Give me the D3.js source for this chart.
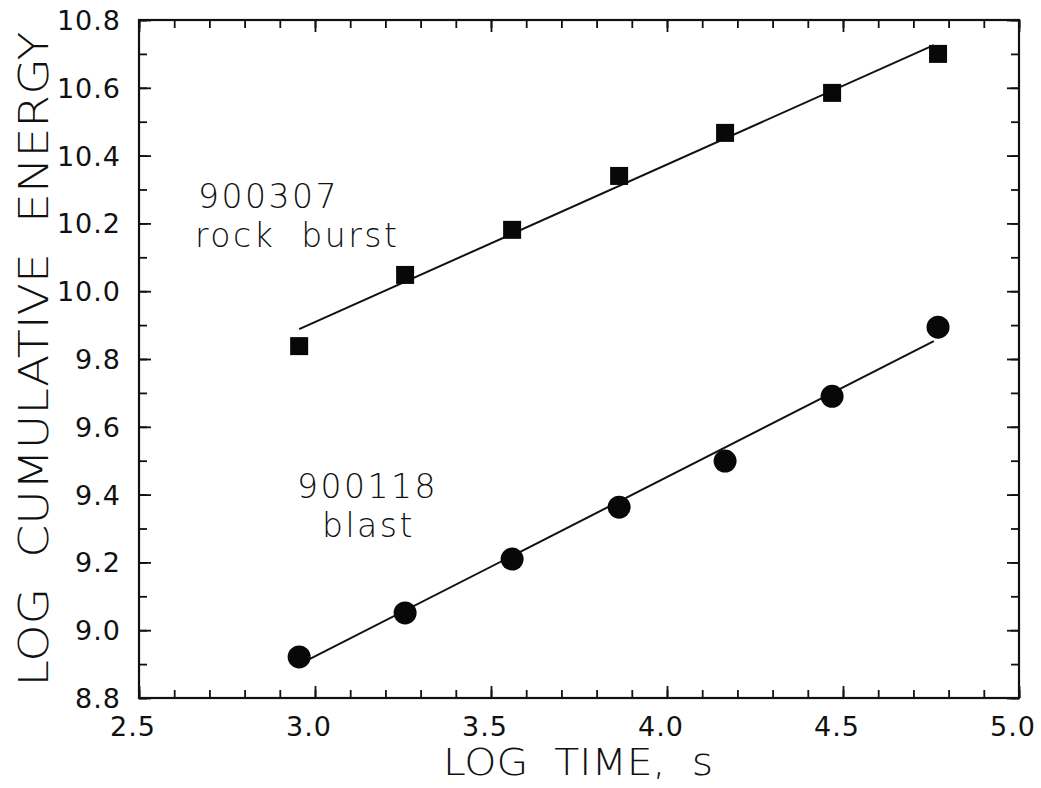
<!DOCTYPE html>
<html>
<head>
<meta charset="utf-8">
<style>
  body { margin: 0; background: #fff; }
  text { fill: #111; white-space: pre; }
</style>
</head>
<body>
<svg width="1041" height="788"></svg>
<script src="https://cdnjs.cloudflare.com/ajax/libs/d3/7.8.5/d3.min.js"></script>
<script>

    // log time vs log cumulative energy, two events with their fitted lines

    var logTime = [2.955, 3.256, 3.56, 3.864, 4.165, 4.469, 4.77];
    var rockBurst = [9.838, 10.048, 10.181, 10.340, 10.467, 10.585, 10.700];
    var blast = [8.921, 9.051, 9.210, 9.363, 9.499, 9.690, 9.894];

    // fitted lines, start and end
    var fitTime = [2.955, 4.758];
    var rockBurstFit = [9.888, 10.726];
    var blastFit = [8.899, 9.853];

    var xTicks = [2.5, 3.0, 3.5, 4.0, 4.5, 5.0];
    var yTicks = [8.8, 9.0, 9.2, 9.4, 9.6, 9.8, 10.0, 10.2, 10.4, 10.6, 10.8];

    var svg = d3.select("svg"),
        margin = {top: 20, right: 22, bottom: 90, left: 139},
        width = +svg.attr("width") - margin.left - margin.right,
        height = +svg.attr("height") - margin.top - margin.bottom,
        g = svg.append("g").attr("transform", "translate(" + margin.left + "," + margin.top + ")");

    var x = d3.scaleLinear().domain([2.5, 5.0]).range([0, width]);
    var y = d3.scaleLinear().domain([8.8, 10.8]).range([height, 0]);

    var xMinor = d3.range(25, 51).map(function (d) { return d / 10; });
    var yMinor = d3.range(88, 109).map(function (d) { return d / 10; });

    // ticks point inward on all four sides
    function tickAxis(axis, scale, values, size) {
        return axis(scale).tickValues(values).tickSizeInner(-size).tickSizeOuter(0).tickFormat("");
    }

    g.append("g").attr("transform", "translate(0," + height + ")").call(tickAxis(d3.axisBottom, x, xMinor, 8));
    g.append("g").attr("transform", "translate(0," + height + ")").call(tickAxis(d3.axisBottom, x, xTicks, 12));
    g.append("g").call(tickAxis(d3.axisTop, x, xMinor, 8));
    g.append("g").call(tickAxis(d3.axisTop, x, xTicks, 12));
    g.append("g").call(tickAxis(d3.axisLeft, y, yMinor, 8));
    g.append("g").call(tickAxis(d3.axisLeft, y, yTicks, 12));
    g.append("g").attr("transform", "translate(" + width + ",0)").call(tickAxis(d3.axisRight, y, yMinor, 8));
    g.append("g").attr("transform", "translate(" + width + ",0)").call(tickAxis(d3.axisRight, y, yTicks, 12));

    g.selectAll(".domain").remove();
    g.selectAll(".tick line").attr("stroke", "#111").attr("stroke-width", 1.8);

    g.append("rect")
        .attr("width", width)
        .attr("height", height)
        .attr("fill", "none")
        .attr("stroke", "#111")
        .attr("stroke-width", 2.2);

    // tick labels
    g.selectAll(".xlab")
        .data(xTicks)
        .enter().append("text")
        .attr("x", function (d) { return x(d) - 6; })
        .attr("y", height + 38)
        .attr("text-anchor", "middle")
        .style("font-family", "DejaVu Sans")
        .style("font-size", "27px")
        .style("letter-spacing", "1px")
        .text(function (d) { return d.toFixed(1); });

    g.selectAll(".ylab")
        .data(yTicks)
        .enter().append("text")
        .attr("x", -18)
        .attr("y", function (d) { return y(d) + 10; })
        .attr("text-anchor", "end")
        .style("font-family", "DejaVu Sans")
        .style("font-size", "27px")
        .style("letter-spacing", "1px")
        .text(function (d) { return d.toFixed(1); });

    // axis titles
    svg.append("text")
        .attr("x", 578)
        .attr("y", 775)
        .attr("text-anchor", "middle")
        .attr("textLength", 270)
        .attr("lengthAdjust", "spacingAndGlyphs")
        .style("font-family", "DejaVu Sans")
        .style("font-size", "37px")
        .style("font-weight", 200)
        .text("LOG  TIME,  s");

    svg.append("text")
        .attr("transform", "translate(48,359) rotate(-90)")
        .attr("text-anchor", "middle")
        .attr("textLength", 655)
        .attr("lengthAdjust", "spacingAndGlyphs")
        .style("font-family", "DejaVu Sans")
        .style("font-size", "40px")
        .style("font-weight", 200)
        .text("LOG  CUMULATIVE  ENERGY");

    // fitted lines
    var line = d3.line()
        .x(function (d) { return x(d[0]); })
        .y(function (d) { return y(d[1]); });

    g.append("path")
        .attr("d", line(d3.zip(fitTime, rockBurstFit)))
        .attr("fill", "none")
        .attr("stroke", "#111")
        .attr("stroke-width", 2);

    g.append("path")
        .attr("d", line(d3.zip(fitTime, blastFit)))
        .attr("fill", "none")
        .attr("stroke", "#111")
        .attr("stroke-width", 2);

    // markers
    g.selectAll(".sq")
        .data(d3.zip(logTime, rockBurst))
        .enter().append("rect")
        .attr("x", function (d) { return x(d[0]) - 9; })
        .attr("y", function (d) { return y(d[1]) - 9; })
        .attr("width", 18)
        .attr("height", 18)
        .attr("fill", "#080808");

    g.selectAll(".ci")
        .data(d3.zip(logTime, blast))
        .enter().append("circle")
        .attr("cx", function (d) { return x(d[0]); })
        .attr("cy", function (d) { return y(d[1]); })
        .attr("r", 11.5)
        .attr("fill", "#080808");

    // labels for the two events
    var notes = [
        {t: "900307", x: 198, y: 208},
        {t: "rock  burst", x: 195, y: 247},
        {t: "900118", x: 297, y: 498},
        {t: "blast", x: 322, y: 537}
    ];

    svg.selectAll(".note")
        .data(notes)
        .enter().append("text")
        .attr("x", function (d) { return d.x; })
        .attr("y", function (d) { return d.y; })
        .style("font-family", "DejaVu Sans")
        .style("font-size", "33px")
        .style("letter-spacing", "2.5px")
        .style("font-weight", 200)
        .text(function (d) { return d.t; });

</script>
</body>
</html>
